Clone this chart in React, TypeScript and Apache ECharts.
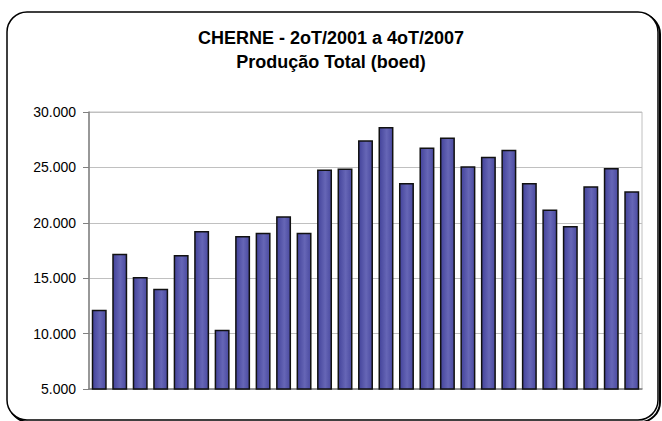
import React, { useEffect, useRef } from "react";
import * as echarts from "echarts";

const categories: string[] = [
  "2T01", "3T01", "4T01",
  "1T02", "2T02", "3T02", "4T02",
  "1T03", "2T03", "3T03", "4T03",
  "1T04", "2T04", "3T04", "4T04",
  "1T05", "2T05", "3T05", "4T05",
  "1T06", "2T06", "3T06", "4T06",
  "1T07", "2T07", "3T07", "4T07",
];

const production: number[] = [
  12150, 17200, 15100, 14050, 17100, 19250, 10350,
  18800, 19100, 20600, 19100, 24800, 24900, 27450, 28650,
  23600, 26800, 27700, 25100, 25950, 26600, 23600,
  21200, 19700, 23300, 24950, 22850,
];

const titleLines: string[] = ["CHERNE - 2oT/2001 a 4oT/2007", "Produção Total (boed)"];
const yMin = 5000;
const yMax = 30000;
const yStep = 5000;

const fmt = (v: number) => {
  const s = Math.round(v).toString();
  return s.replace(/\B(?=(\d{3})+(?!\d))/g, ".");
};

export default function App() {
  const ref = useRef<HTMLDivElement>(null);
  useEffect(() => {
    document.body.style.margin = "0";
    if (!ref.current) return;
    const chart = echarts.init(ref.current, null, { renderer: "svg" });
    chart.setOption({
      animation: false,
      backgroundColor: "#ffffff",
      textStyle: { fontFamily: "'Liberation Sans', Arial, sans-serif" },
      graphic: [
        {
          type: "rect",
          z: -10,
          silent: true,
          shape: { x: 9, y: 14, width: 651, height: 408, r: 20 },
          style: { fill: "none", stroke: "#000", lineWidth: 2 },
        },
        {
          type: "rect",
          z: -9,
          silent: true,
          shape: { x: 7, y: 12, width: 651, height: 408, r: 20 },
          style: { fill: "#fff", stroke: "#000", lineWidth: 1.5 },
        },
        {
          type: "text",
          left: "center",
          top: 29,
          z: 10,
          style: {
            text: titleLines[0],
            font: "bold 18px 'Liberation Sans', Arial, sans-serif",
            fill: "#000",
          },
        },
        {
          type: "text",
          left: "center",
          top: 53,
          z: 10,
          style: {
            text: titleLines[1],
            font: "bold 18px 'Liberation Sans', Arial, sans-serif",
            fill: "#000",
          },
        },
      ],
      grid: {
        left: 89,
        right: 20,
        top: 112,
        bottom: 32,
        show: true,
        borderColor: "#c0c0c0",
        borderWidth: 1,
        backgroundColor: "transparent",
      },
      xAxis: {
        type: "category",
        data: categories,
        axisLabel: { show: false },
        axisTick: { show: false },
        axisLine: { show: true, lineStyle: { color: "#808080", width: 1.5 } },
      },
      yAxis: {
        type: "value",
        min: yMin,
        max: yMax,
        interval: yStep,
        axisLine: { show: true, lineStyle: { color: "#808080", width: 1.5 } },
        axisTick: { show: true, length: 6, lineStyle: { color: "#808080" } },
        axisLabel: {
          margin: 13,
          color: "#000",
          fontSize: 14,
          fontFamily: "'Liberation Sans', Arial, sans-serif",
          formatter: (v: number) => fmt(v),
        },
        splitLine: { show: true, lineStyle: { color: "#c0c0c0", width: 1 } },
      },
      series: [
        {
          type: "bar",
          data: production,
          barCategoryGap: "27%",
          itemStyle: {
            color: {
              type: "linear",
              x: 0,
              y: 0,
              x2: 1,
              y2: 0,
              colorStops: [
                { offset: 0, color: "#43439a" },
                { offset: 0.55, color: "#6666b6" },
                { offset: 1, color: "#4a4aa0" },
              ],
            },
            borderColor: "#111111",
            borderWidth: 1.5,
          },
        },
      ],
    });
    return () => chart.dispose();
  }, []);
  return <div ref={ref} style={{ width: 662, height: 421 }} />;
}
